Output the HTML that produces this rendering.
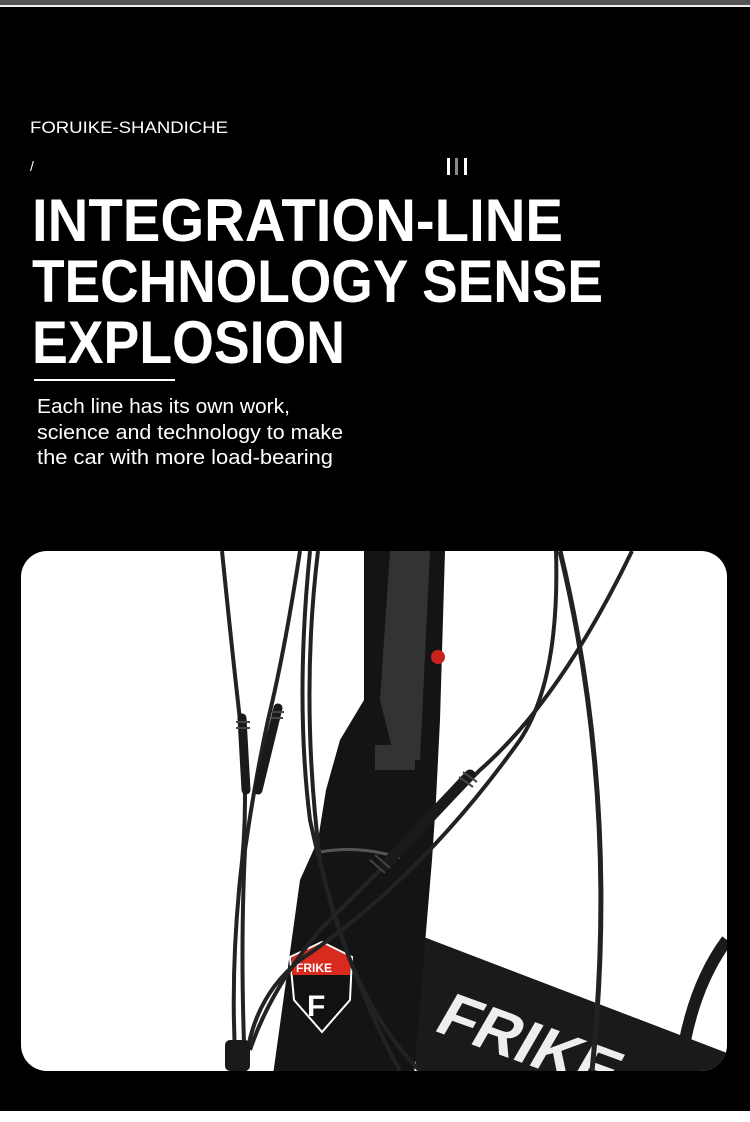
<!DOCTYPE html>
<html><head><meta charset="utf-8"><style>
html,body{margin:0;padding:0;background:#fff}
body{width:750px;height:1122px;overflow:hidden;position:relative}
</style></head><body>
<svg width="750" height="1122" viewBox="0 0 750 1122" xmlns="http://www.w3.org/2000/svg" style="position:absolute;left:0;top:0">
<rect x="0" y="0" width="750" height="1111" fill="#000"/>
<rect x="0" y="0" width="750" height="5" fill="#555"/>
<rect x="0" y="5" width="750" height="2" fill="#eee"/>
<g font-family="Liberation Sans, sans-serif" fill="#fff">
<text x="30" y="133" font-size="17" textLength="198" lengthAdjust="spacingAndGlyphs">FORUIKE-SHANDICHE</text>
<text x="30" y="171" font-size="14">/</text>
<rect x="447" y="158" width="3" height="17"/><rect x="455" y="158" width="3" height="17" fill="#888"/><rect x="464" y="158" width="3" height="17"/>
<g font-weight="bold" font-size="60">
<text x="32" y="241" textLength="531" lengthAdjust="spacingAndGlyphs">INTEGRATION-LINE</text>
<text x="32" y="302" textLength="571" lengthAdjust="spacingAndGlyphs">TECHNOLOGY SENSE</text>
<text x="32" y="363" textLength="313" lengthAdjust="spacingAndGlyphs">EXPLOSION</text>
</g>
<rect x="34" y="379" width="141" height="2"/>
<g font-size="20">
<text x="37" y="413" textLength="253" lengthAdjust="spacingAndGlyphs">Each line has its own work,</text>
<text x="37" y="439" textLength="306" lengthAdjust="spacingAndGlyphs">science and technology to make</text>
<text x="37" y="464" textLength="296" lengthAdjust="spacingAndGlyphs">the car with more load-bearing</text>
</g>
</g>
<clipPath id="c"><rect x="21" y="551" width="706" height="520" rx="26"/></clipPath>
<rect x="21" y="551" width="706" height="520" rx="26" fill="#fff"/>
<g clip-path="url(#c)">
<polygon points="395,926 727,1053 727,1075 420,1075 390,990" fill="#1a1a1a"/>
<text x="0" y="0" font-family="Liberation Sans, sans-serif" font-weight="bold" font-size="62" fill="#eee" transform="translate(432 1030) rotate(20) skewX(-10)">FRIKE</text>
<path d="M364,551 L445,551 L440,720 L436,800 L432,860 L414,1075 L273,1075 L300,880 L318,840 L326,790 L340,740 L364,700 Z" fill="#141414"/>
<path d="M390,551 L430,551 L420,760 L395,760 L380,700 Z" fill="#333"/>
<rect x="375" y="745" width="40" height="25" fill="#333"/>
<circle cx="438" cy="657" r="7" fill="#c8221c"/>
<path d="M320,852 Q360,845 400,858" stroke="#555" stroke-width="3" fill="none"/>
<path d="M290,957 L322,942 L352,957 L350,1000 L322,1032 L294,1000 Z" fill="#111" stroke="#fff" stroke-width="2"/>
<path d="M292,957 L322,943 L350,957 L350,975 L292,975 Z" fill="#d92a1f"/>
<text x="296" y="972" font-family="Liberation Sans, sans-serif" font-weight="bold" font-size="12" fill="#fff">FRIKE</text>
<text x="307" y="1016" font-family="Liberation Sans, sans-serif" font-weight="bold" font-size="30" fill="#fff">F</text>
<path d="M727,940 Q690,990 680,1071" stroke="#1a1a1a" stroke-width="12" fill="none"/>
<g stroke="#222" fill="none" stroke-width="4">
<path d="M222,551 Q232,650 240,720 Q250,800 240,880 Q230,980 236,1071"/>
<path d="M300,551 Q285,650 268,720 Q255,780 245,850 Q240,950 245,1071"/>
<path d="M310,551 Q295,700 310,820 Q340,960 400,1071"/>
<path d="M318,551 Q300,700 320,860 Q350,1000 420,1071"/>
<path d="M556,551 Q560,680 520,740 Q420,880 300,960 Q250,1000 245,1071"/>
<path d="M632,551 Q560,700 480,770 Q400,850 320,930 Q270,990 250,1050"/>
<path d="M560,551 Q620,800 592,1071" stroke-width="5"/>
</g>
<g stroke="#1a1a1a" stroke-linecap="round" fill="none">
<path d="M242,718 L246,790" stroke-width="9"/>
<path d="M278,708 L258,790" stroke-width="9"/>
<path d="M470,775 L385,865" stroke-width="11"/>
</g>
<g stroke="#444" stroke-width="2">
<path d="M236,722 L250,722 M236,728 L250,728"/>
<path d="M272,712 L284,712 M271,718 L283,718"/>
<path d="M463,772 L477,782 M459,777 L473,787"/>
<path d="M375,855 L390,868 M370,860 L385,873"/>
</g>
<rect x="225" y="1040" width="25" height="31" fill="#1a1a1a" rx="5"/>
</g>
</svg>
</body></html>
